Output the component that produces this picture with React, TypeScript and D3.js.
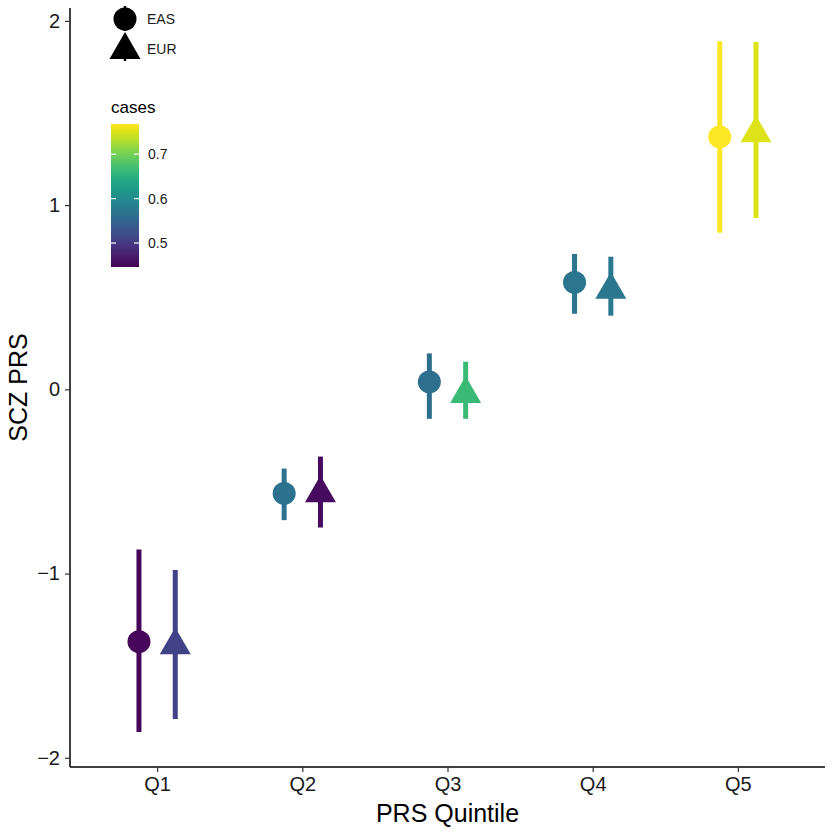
import { useRef, useEffect } from 'react';
import * as d3 from 'd3';

// PRS quintile means by ancestry, with 95% interval, coloured by case fraction
const quintiles = ['Q1', 'Q2', 'Q3', 'Q4', 'Q5'];
const ancestries = ['EAS', 'EUR'];

const easMean = [-1.37, -0.565, 0.04, 0.58, 1.37];
const easLow = [-1.86, -0.71, -0.16, 0.41, 0.85];
const easHigh = [-0.87, -0.43, 0.195, 0.735, 1.89];
const easCases = [0.452, 0.568, 0.562, 0.571, 0.767];

const eurMean = [-1.39, -0.565, -0.025, 0.54, 1.39];
const eurLow = [-1.79, -0.75, -0.16, 0.4, 0.93];
const eurHigh = [-0.98, -0.365, 0.15, 0.72, 1.885];
const eurCases = [0.51, 0.456, 0.664, 0.574, 0.751];

const caseTicks = [0.5, 0.6, 0.7];
const yTicks = [-2, -1, 0, 1, 2];

const W = 836;
const H = 836;
const FONT = '"Liberation Sans", Arial, sans-serif';

// R-style point geometry (pch 19 / pch 17)
const K = 11.5;
function trianglePath(cx: number, cy: number, k: number) {
  const r = 1.5551 * k;
  const xc = 1.3468 * k;
  const yc = 0.7776 * k;
  return `M${cx},${cy - r}L${cx + xc},${cy + yc}L${cx - xc},${cy + yc}Z`;
}

export default function App() {
  const svgRef = useRef<SVGSVGElement>(null);

  useEffect(() => {
    if (!svgRef.current) return;
    const svg = d3.select(svgRef.current);
    svg.selectAll('*').remove();

    const panel = { left: 70, right: 825, top: 8, bottom: 767 };

    const x = d3.scalePoint<string>()
      .domain(quintiles)
      .range([panel.left, panel.right])
      .padding(0.6);
    const dodge = x.step() * 0.125;

    const y = d3.scaleLinear()
      .domain([-2.05, 2.07])
      .range([panel.bottom, panel.top]);

    const color = d3.scaleSequential(d3.interpolateViridis).domain([0.446, 0.768]);

    const rows = ancestries.flatMap(anc =>
      quintiles.map((q, i) => ({
        q,
        anc,
        mean: anc === 'EAS' ? easMean[i] : eurMean[i],
        low: anc === 'EAS' ? easLow[i] : eurLow[i],
        high: anc === 'EAS' ? easHigh[i] : eurHigh[i],
        cases: anc === 'EAS' ? easCases[i] : eurCases[i],
      }))
    );
    const px = (d: typeof rows[0]) => (x(d.q) as number) + (d.anc === 'EAS' ? -dodge : dodge);

    // Error bars
    svg.append('g')
      .selectAll('line')
      .data(rows)
      .join('line')
      .attr('x1', px)
      .attr('x2', px)
      .attr('y1', d => y(d.low))
      .attr('y2', d => y(d.high))
      .attr('stroke', d => color(d.cases))
      .attr('stroke-width', 5);

    // Points
    const pts = svg.append('g');
    pts.selectAll('circle')
      .data(rows.filter(d => d.anc === 'EAS'))
      .join('circle')
      .attr('cx', px)
      .attr('cy', d => y(d.mean))
      .attr('r', K)
      .attr('fill', d => color(d.cases));
    pts.selectAll('path')
      .data(rows.filter(d => d.anc === 'EUR'))
      .join('path')
      .attr('d', d => trianglePath(px(d), y(d.mean), K))
      .attr('fill', d => color(d.cases));

    // Axes
    const xAxis = svg.append('g')
      .attr('transform', `translate(0,${panel.bottom})`)
      .call(d3.axisBottom(x).tickSize(5).tickSizeOuter(0).tickPadding(5));
    xAxis.select('.domain').attr('d', `M${panel.left},0H${panel.right}`);
    const yAxis = svg.append('g')
      .attr('transform', `translate(${panel.left},0)`)
      .call(d3.axisLeft(y).tickValues(yTicks).tickFormat(d3.format('d')).tickSize(5).tickSizeOuter(0).tickPadding(5));
    yAxis.select('.domain').attr('d', `M0,${panel.top}V${panel.bottom}`);

    svg.selectAll('.domain').attr('stroke', '#000').attr('stroke-width', 1.5);
    svg.selectAll('.tick line').attr('stroke', '#333').attr('stroke-width', 1.2);
    svg.selectAll('.tick text')
      .attr('fill', '#1a1a1a')
      .attr('font-size', '20px')
      .attr('font-family', FONT);
    yAxis.selectAll('.tick text').text(d => String(d).replace('-', '\u2212'));

    // Axis titles
    svg.append('text')
      .attr('x', (panel.left + panel.right) / 2)
      .attr('y', 822)
      .attr('text-anchor', 'middle')
      .attr('font-size', '25px')
      .attr('font-family', FONT)
      .attr('fill', '#000')
      .text('PRS Quintile');
    svg.append('text')
      .attr('transform', `translate(27,${(panel.top + panel.bottom) / 2}) rotate(-90)`)
      .attr('text-anchor', 'middle')
      .attr('font-size', '25px')
      .attr('font-family', FONT)
      .attr('fill', '#000')
      .text('SCZ PRS');

    // Shape legend
    const legX = 125;
    const shapeLeg = svg.append('g');
    ancestries.forEach((anc, i) => {
      const cy = 19 + i * 30;
      shapeLeg.append('line')
        .attr('x1', legX).attr('x2', legX)
        .attr('y1', cy - 13).attr('y2', cy + 12)
        .attr('stroke', '#000')
        .attr('stroke-width', 2.5);
      if (anc === 'EAS') {
        shapeLeg.append('circle').attr('cx', legX).attr('cy', cy).attr('r', K).attr('fill', '#000');
      } else {
        shapeLeg.append('path').attr('d', trianglePath(legX, cy + 1, K)).attr('fill', '#000');
      }
      shapeLeg.append('text')
        .attr('x', 147)
        .attr('y', cy)
        .attr('dy', '0.35em')
        .attr('font-size', '14px')
        .attr('font-family', FONT)
        .attr('fill', '#1a1a1a')
        .text(anc);
    });

    // Colour bar legend
    const bar = { x: 111, w: 28, top: 124, bottom: 267 };
    const cy = d3.scaleLinear().domain(color.domain()).range([bar.bottom, bar.top]);
    const grad = svg.append('defs')
      .append('linearGradient')
      .attr('id', 'casesGradient')
      .attr('x1', '0%').attr('y1', '100%')
      .attr('x2', '0%').attr('y2', '0%');
    d3.range(0, 1.0001, 0.05).forEach(t => {
      grad.append('stop')
        .attr('offset', `${t * 100}%`)
        .attr('stop-color', d3.interpolateViridis(t));
    });

    svg.append('text')
      .attr('x', bar.x)
      .attr('y', 113)
      .attr('font-size', '17px')
      .attr('font-family', FONT)
      .attr('fill', '#000')
      .text('cases');
    svg.append('rect')
      .attr('x', bar.x)
      .attr('y', bar.top)
      .attr('width', bar.w)
      .attr('height', bar.bottom - bar.top)
      .attr('fill', 'url(#casesGradient)');
    const tickG = svg.append('g');
    caseTicks.forEach(v => {
      tickG.append('line')
        .attr('x1', bar.x).attr('x2', bar.x + 5)
        .attr('y1', cy(v)).attr('y2', cy(v))
        .attr('stroke', '#fff').attr('stroke-width', 1.2);
      tickG.append('line')
        .attr('x1', bar.x + bar.w - 5).attr('x2', bar.x + bar.w)
        .attr('y1', cy(v)).attr('y2', cy(v))
        .attr('stroke', '#fff').attr('stroke-width', 1.2);
      tickG.append('text')
        .attr('x', 148)
        .attr('y', cy(v))
        .attr('dy', '0.35em')
        .attr('font-size', '14px')
        .attr('font-family', FONT)
        .attr('fill', '#1a1a1a')
        .text(d3.format('.1f')(v));
    });
  }, []);

  return (
    <div style={{ position: 'absolute', left: 0, top: 0 }}>
      <svg ref={svgRef} width={W} height={H} style={{ display: 'block', background: '#fff' }} />
    </div>
  );
}
